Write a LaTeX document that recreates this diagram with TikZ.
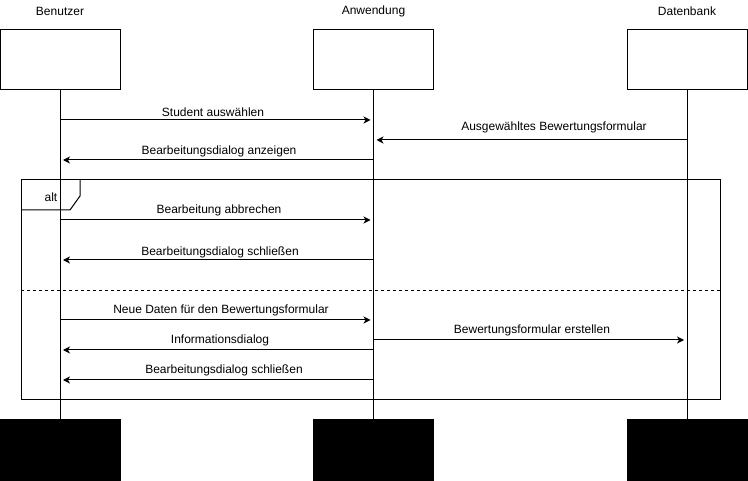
\documentclass[tikz,border=0pt]{standalone}
\usepackage{fontspec}
\setmainfont{Liberation Sans}
\usetikzlibrary{arrows.meta,positioning}

\tikzset{
    head/.style={draw, line width=1pt, minimum width=120pt, minimum height=60pt, inner sep=0pt},
    tail/.style={head, fill=black},
    life/.style={line width=1pt},
    msg/.style={line width=1pt, -{Stealth[length=7pt,width=7pt,inset=2pt]}, shorten >=3pt},
    lbl/.style={font=\fontsize{12pt}{14pt}\selectfont, inner sep=1pt},
}

\begin{document}
\begin{tikzpicture}[x=1pt, y=-1pt]
        \useasboundingbox (0,0) rectangle (748,481);

        % lifeline heads
        \node[lbl] (benT) at (60,11) {Benutzer};
        \node[lbl] (anwT) at (373.5,11) {Anwendung};
        \node[lbl] (datT) at (687,11) {Datenbank};
        \node[head] (ben) at (60,60) {};
        \node[head] (anw) at (373.5,60) {};
        \node[head] (dat) at (687,60) {};
        \node[tail] (benE) at (60,450) {};
        \node[tail] (anwE) at (373.5,450) {};
        \node[tail] (datE) at (687,450) {};
        \draw[life] (ben) -- (benE);
        \draw[life] (anw) -- (anwE);
        \draw[life] (dat) -- (datE);

        % alt frame
        \draw[line width=1pt] (21,180) rectangle (720,400);
        \draw[line width=1pt] (21,210) -- (70,210) -- (80,196) -- (80,180);
        \node[lbl] (alt) at (51,197) {alt};
        \draw[line width=1pt, dash pattern=on 3pt off 3pt] (21,291) -- (720,291);

        % message heights
        \coordinate (m1) at (0,120);
        \coordinate (m2) at (0,140);
        \coordinate (m3) at (0,160);
        \coordinate (m4) at (0,220);
        \coordinate (m5) at (0,260);
        \coordinate (m6) at (0,320);
        \coordinate (m7) at (0,340);
        \coordinate (m8) at (0,350);
        \coordinate (m9) at (0,380);

        \draw[msg] (ben |- m1) -- (anw |- m1);
        \node[lbl] (l1) at (213,112) {Student auswählen};
        \draw[msg] (dat |- m2) -- (anw |- m2);
        \node[lbl] (l2) at (554,127) {Ausgewähltes Bewertungsformular};
        \draw[msg] (anw |- m3) -- (ben |- m3);
        \node[lbl] (l3) at (219,151) {Bearbeitungsdialog anzeigen};

        \draw[msg] (ben |- m4) -- (anw |- m4);
        \node[lbl] (l4) at (219,210) {Bearbeitung abbrechen};
        \draw[msg] (anw |- m5) -- (ben |- m5);
        \node[lbl] (l5) at (220,252) {Bearbeitungsdialog schließen};

        \draw[msg] (ben |- m6) -- (anw |- m6);
        \node[lbl] (l6) at (221,310) {Neue Daten für den Bewertungsformular};
        \draw[msg] (anw |- m7) -- (dat |- m7);
        \node[lbl] (l7) at (532,330) {Bewertungsformular erstellen};
        \draw[msg] (anw |- m8) -- (ben |- m8);
        \node[lbl] (l8) at (220,340) {Informationsdialog};
        \draw[msg] (anw |- m9) -- (ben |- m9);
        \node[lbl] (l9) at (224,370) {Bearbeitungsdialog schließen};
    \end{tikzpicture}
\end{document}
